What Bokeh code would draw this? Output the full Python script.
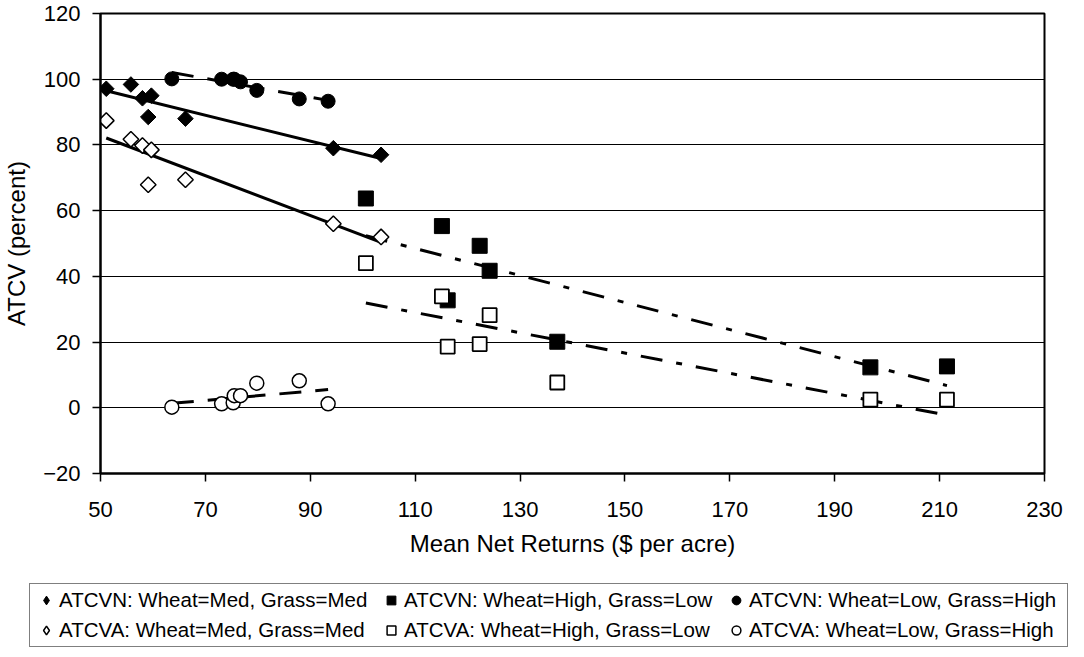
import numpy as np
from bokeh.plotting import figure
from bokeh.layouts import column
from bokeh.models import Legend, LegendItem, FixedTicker, Range1d
from bokeh.embed import file_html
from bokeh.resources import INLINE

# ---- data ----
x_med = [51.1, 55.8, 58.0, 59.7, 59.1, 66.2, 94.4, 103.5]
atcvn_med = [97.1, 98.4, 94.2, 95.0, 88.5, 88.0, 79.0, 77.0]
atcva_med = [87.4, 81.7, 79.8, 78.5, 67.9, 69.4, 56.0, 52.0]

x_high = [100.6, 115.1, 116.2, 122.3, 124.2, 137.1, 196.8, 211.4]
atcvn_high = [63.7, 55.3, 32.7, 49.3, 41.7, 20.1, 12.3, 12.6]
atcva_high = [44.0, 33.9, 18.6, 19.4, 28.2, 7.7, 2.5, 2.5]

x_low = [63.6, 73.1, 75.3, 75.5, 76.7, 79.8, 87.9, 93.4]
atcvn_low = [100.1, 100.0, 100.0, 100.0, 99.2, 96.6, 94.0, 93.3]
atcva_low = [0.2, 1.2, 1.5, 3.7, 3.7, 7.5, 8.2, 1.2]

x_ticks = [50, 70, 90, 110, 130, 150, 170, 190, 210, 230]
y_ticks = [-20, 0, 20, 40, 60, 80, 100, 120]

labels = [
    "ATCVN: Wheat=Med, Grass=Med",
    "ATCVN: Wheat=High, Grass=Low",
    "ATCVN: Wheat=Low, Grass=High",
    "ATCVA: Wheat=Med, Grass=Med",
    "ATCVA: Wheat=High, Grass=Low",
    "ATCVA: Wheat=Low, Grass=High",
]

FONT = "Liberation Sans"

p = figure(width=1076, height=580, output_backend="svg", toolbar_location=None,
           x_range=Range1d(50, 230), y_range=Range1d(-20, 120),
           min_border_left=97, min_border_right=32, min_border_top=13,
           min_border_bottom=107)
p.frame_align = False
p.background_fill_color = "white"
p.border_fill_color = "white"
p.outline_line_color = "black"
p.outline_line_width = 2

p.xgrid.visible = False
p.ygrid.grid_line_color = "black"
p.ygrid.grid_line_width = 1
p.ygrid.ticker = FixedTicker(ticks=y_ticks)

for ax in (p.xaxis[0], p.yaxis[0]):
    ax.axis_line_color = "black"
    ax.axis_line_width = 2
    ax.major_tick_line_color = "black"
    ax.major_tick_line_width = 1.5
    ax.major_tick_out = 8
    ax.major_tick_in = 0
    ax.minor_tick_line_color = None
    ax.major_label_text_font = FONT
    ax.major_label_text_font_size = "22px"
    ax.major_label_text_color = "black"
    ax.axis_label_text_font = FONT
    ax.axis_label_text_font_size = "24px"
    ax.axis_label_text_font_style = "normal"
    ax.axis_label_text_color = "black"

p.xaxis.ticker = FixedTicker(ticks=x_ticks)
p.yaxis.ticker = FixedTicker(ticks=y_ticks)
p.xaxis.axis_label = "Mean Net Returns ($ per acre)"
p.yaxis.axis_label = "ATCV (percent)"
p.xaxis.major_label_standoff = 20
p.yaxis.major_label_standoff = 12
p.xaxis.axis_label_standoff = 10
p.yaxis.axis_label_standoff = 10


def trend(xs, ys, dash):
    k, b = np.polyfit(xs, ys, 1)
    xe = np.array([min(xs), max(xs)])
    p.line(xe, k * xe + b, line_color="black", line_width=3, line_dash=dash)


trend(x_med, atcvn_med, "solid")
trend(x_med, atcva_med, "solid")
trend(x_high, atcvn_high, "22 14 6 14")
trend(x_high, atcva_high, "22 14 6 14")
trend(x_low, atcvn_low, "22 14")
trend(x_low, atcva_low, "22 14")

styles = [
    dict(marker="square", angle=np.pi / 4, size=11, fill_color="black", line_color="black"),
    dict(marker="square", size=15, fill_color="black", line_color="black"),
    dict(marker="circle", size=14, fill_color="black", line_color="black"),
    dict(marker="square", angle=np.pi / 4, size=11, fill_color="white", line_color="black", line_width=1.5),
    dict(marker="square", size=14, fill_color="white", line_color="black", line_width=1.8),
    dict(marker="circle", size=14, fill_color="white", line_color="black", line_width=1.5),
]
series = [(x_med, atcvn_med), (x_high, atcvn_high), (x_low, atcvn_low),
          (x_med, atcva_med), (x_high, atcva_high), (x_low, atcva_low)]

for (xs, ys), st in zip(series, styles):
    p.scatter(xs, ys, **st)

# ---- legend in its own strip below the chart ----
leg_styles = [
    dict(marker="diamond", size=15, fill_color="black", line_color="black"),
    dict(marker="square", size=14, fill_color="black", line_color="black"),
    dict(marker="circle", size=13, fill_color="black", line_color="black"),
    dict(marker="diamond", size=15, fill_color="white", line_color="black", line_width=1.5),
    dict(marker="square", size=13, fill_color="white", line_color="black", line_width=1.5),
    dict(marker="circle", size=13, fill_color="white", line_color="black", line_width=1.5),
]
leg = figure(width=1076, height=69, output_backend="svg", toolbar_location=None,
             x_range=Range1d(0, 1), y_range=Range1d(0, 1),
             x_axis_type=None, y_axis_type=None, min_border=0)
leg.frame_align = False
leg.outline_line_color = None
leg.xgrid.visible = False
leg.ygrid.visible = False
leg_renderers = [leg.scatter(xs, ys, **st) for (xs, ys), st in zip(series, leg_styles)]

items = [LegendItem(label=l, renderers=[r]) for l, r in zip(labels, leg_renderers)]
legend = Legend(items=items, orientation="horizontal", nrows=2,
                location=(29, 2),
                label_text_font=FONT, label_text_font_size="20.5px",
                label_text_color="black",
                glyph_width=24, glyph_height=22, label_height=20, label_width=314,
                label_standoff=1, spacing=6, padding=4, margin=0,
                border_line_color="black", border_line_width=1,
                background_fill_color="white", background_fill_alpha=1)
leg.add_layout(legend, "center")

open("out.html", "w").write(file_html(column(p, leg, spacing=0), INLINE))
